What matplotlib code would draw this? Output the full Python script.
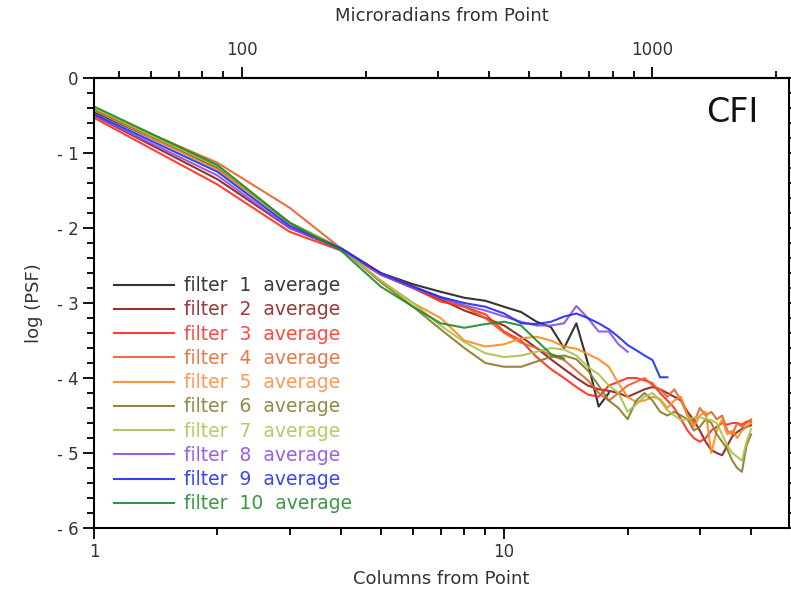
# PSF radial profile plot: log(PSF) against columns from point, one line per filter average.
import matplotlib
matplotlib.use("Agg")
import matplotlib.pyplot as plt
import matplotlib.ticker as mticker

# columns from point (x) and log(PSF) for each filter
cols = list(range(1, 41))

filter1 = [-0.45, -1.20, -1.93, -2.27, -2.60, -2.75, -2.85, -2.93, -2.97, -3.05,
           -3.12, -3.25, -3.32, -3.60, -3.27, -3.80, -4.38, -4.20]
filter2 = [-0.50, -1.35, -2.00, -2.28, -2.62, -2.80, -2.95, -3.10, -3.20, -3.30,
           -3.45, -3.60, -3.75, -3.88, -4.00, -4.10, -4.15, -4.17, -4.20, -4.25,
           -4.20, -4.15, -4.12, -4.15, -4.20, -4.25, -4.30, -4.45, -4.56, -4.70,
           -4.85, -4.96, -5.00, -5.03, -4.90, -4.78, -4.72, -4.68, -4.65, -4.63]
filter3 = [-0.53, -1.42, -2.05, -2.30, -2.62, -2.80, -2.98, -3.05, -3.15, -3.38,
           -3.50, -3.72, -3.88, -4.00, -4.12, -4.22, -4.25, -4.10, -4.05, -4.00,
           -4.00, -4.03, -4.07, -4.20, -4.30, -4.40, -4.55, -4.70, -4.80, -4.85,
           -4.80, -4.70, -4.65, -4.60, -4.62, -4.60, -4.60, -4.62, -4.58, -4.58]
filter4 = [-0.42, -1.13, -1.73, -2.27, -2.60, -2.78, -2.93, -3.05, -3.20, -3.40,
           -3.53, -3.60, -3.70, -3.76, -3.90, -4.03, -4.20, -4.30, -4.20, -4.10,
           -4.05, -4.00, -4.10, -4.15, -4.25, -4.15, -4.30, -4.50, -4.60, -4.40,
           -4.50, -4.45, -4.55, -4.50, -4.70, -4.75, -4.60, -4.65, -4.60, -4.55]
filter5 = [-0.43, -1.22, -1.93, -2.27, -2.70, -3.00, -3.20, -3.50, -3.58, -3.55,
           -3.47, -3.45, -3.50, -3.58, -3.61, -3.68, -3.75, -3.85, -4.07, -4.25,
           -4.32, -4.30, -4.25, -4.28, -4.40, -4.30, -4.25, -4.50, -4.65, -4.50,
           -4.45, -5.00, -4.70, -4.55, -4.75, -4.70, -4.80, -4.70, -4.65, -4.60]
filter6 = [-0.42, -1.18, -1.93, -2.27, -2.72, -3.05, -3.35, -3.60, -3.80, -3.85,
           -3.85, -3.78, -3.72, -3.70, -3.75, -3.90, -4.10, -4.30, -4.40, -4.55,
           -4.30, -4.20, -4.30, -4.45, -4.50, -4.45, -4.50, -4.55, -4.70, -4.65,
           -4.55, -4.60, -4.75, -4.85, -4.95, -5.10, -5.20, -5.25, -4.90, -4.75]
filter7 = [-0.40, -1.18, -1.93, -2.27, -2.70, -3.00, -3.30, -3.52, -3.67, -3.72,
           -3.70, -3.65, -3.60, -3.62, -3.70, -3.85, -3.95, -4.10, -4.20, -4.45,
           -4.35, -4.25, -4.20, -4.30, -4.43, -4.50, -4.56, -4.55, -4.53, -4.52,
           -4.55, -4.56, -4.60, -4.75, -4.90, -5.00, -5.05, -5.10, -4.85, -4.68]
filter8 = [-0.50, -1.30, -2.00, -2.28, -2.62, -2.80, -2.93, -3.03, -3.10, -3.18,
           -3.25, -3.30, -3.30, -3.27, -3.04, -3.20, -3.38, -3.38, -3.55, -3.65]
filter9 = [-0.48, -1.25, -1.97, -2.27, -2.60, -2.78, -2.92, -3.00, -3.05, -3.14,
           -3.27, -3.28, -3.25, -3.18, -3.14, -3.20, -3.27, -3.35, -3.45, -3.56,
           -3.63, -3.70, -3.76, -3.99, -3.99]
filter10 = [-0.38, -1.16, -1.93, -2.30, -2.78, -3.05, -3.27, -3.33, -3.28, -3.25,
            -3.30, -3.50, -3.68, -3.74]

series = [filter1, filter2, filter3, filter4, filter5,
          filter6, filter7, filter8, filter9, filter10]
labels = [f"filter  {i}  average" for i in range(1, 11)]
line_colors = ["#1e1e1e", "#8c1c1c", "#ff2a1a", "#e8602a", "#ff8a1e",
               "#8a7a2a", "#a8c448", "#8a4ee0", "#1e2ef0", "#1e8c28"]
text_colors = ["#3a3a3a", "#9a3a3a", "#ff4a40", "#e27a4a", "#fb9a5a",
               "#958a4a", "#b2cc66", "#9a62e6", "#3a46f0", "#3a9a44"]

# microradians per column for the top axis
urad_per_col = 43.5

fig = plt.figure(figsize=(7.91, 5.90), dpi=100)
ax = fig.add_axes([0.1188, 0.105, 0.8787, 0.7628])

for ys, c in zip(series, line_colors):
    ax.plot(cols[:len(ys)], ys, color=c, linewidth=1.5, alpha=0.9)

ax.set_xscale("log")
ax.set_xlim(1, 49.5)
ax.set_ylim(-6, 0)

ax.xaxis.set_major_locator(mticker.FixedLocator([1, 10]))
ax.xaxis.set_major_formatter(mticker.FixedFormatter(["1", "10"]))
ax.xaxis.set_minor_locator(mticker.LogLocator(base=10, subs=range(2, 10), numticks=20))
ax.xaxis.set_minor_formatter(mticker.NullFormatter())

ax.yaxis.set_major_locator(mticker.MultipleLocator(1))
ax.yaxis.set_minor_locator(mticker.MultipleLocator(0.2))
ax.yaxis.set_major_formatter(mticker.FuncFormatter(
    lambda v, p: "0" if round(v) == 0 else f"- {abs(int(round(v)))}"))

for s in ax.spines.values():
    s.set_linewidth(1.5)
ax.tick_params(which="major", length=8, width=1.3, labelsize=12,
               labelcolor="#333333", pad=3)
ax.tick_params(which="minor", length=5, width=1.3)
ax.tick_params(axis="y", right=True, which="both")

# top axis in microradians
sec = ax.secondary_xaxis("top", functions=(lambda x: x * urad_per_col,
                                           lambda x: x / urad_per_col))
sec.xaxis.set_major_locator(mticker.FixedLocator([100, 1000]))
sec.xaxis.set_major_formatter(mticker.FixedFormatter(["100", "1000"]))
sec.xaxis.set_minor_locator(mticker.LogLocator(base=10, subs=range(2, 10), numticks=20))
sec.xaxis.set_minor_formatter(mticker.NullFormatter())
sec.spines["top"].set_linewidth(1.5)
sec.tick_params(which="major", length=8, width=1.3, labelsize=12,
                labelcolor="#333333", pad=6)
sec.tick_params(which="minor", length=5, width=1.3)
sec.set_xlabel("Microradians from Point", fontsize=13, color="#333333", labelpad=14)

ax.set_xlabel("Columns from Point", fontsize=13, color="#333333", labelpad=6)
ax.set_ylabel("log (PSF)", fontsize=13, color="#333333", labelpad=10)

ax.text(0.919, 0.924, "CFI", transform=ax.transAxes, fontsize=24,
        ha="center", va="center", color="#111111")

leg = ax.legend(labels, loc="lower left", bbox_to_anchor=(0.005, -0.005),
                frameon=False, fontsize=13.5, handlelength=3.2,
                handletextpad=0.5, labelspacing=0.28)
for t, c in zip(leg.get_texts(), text_colors):
    t.set_color(c)

fig.savefig("out.png", dpi=100)
